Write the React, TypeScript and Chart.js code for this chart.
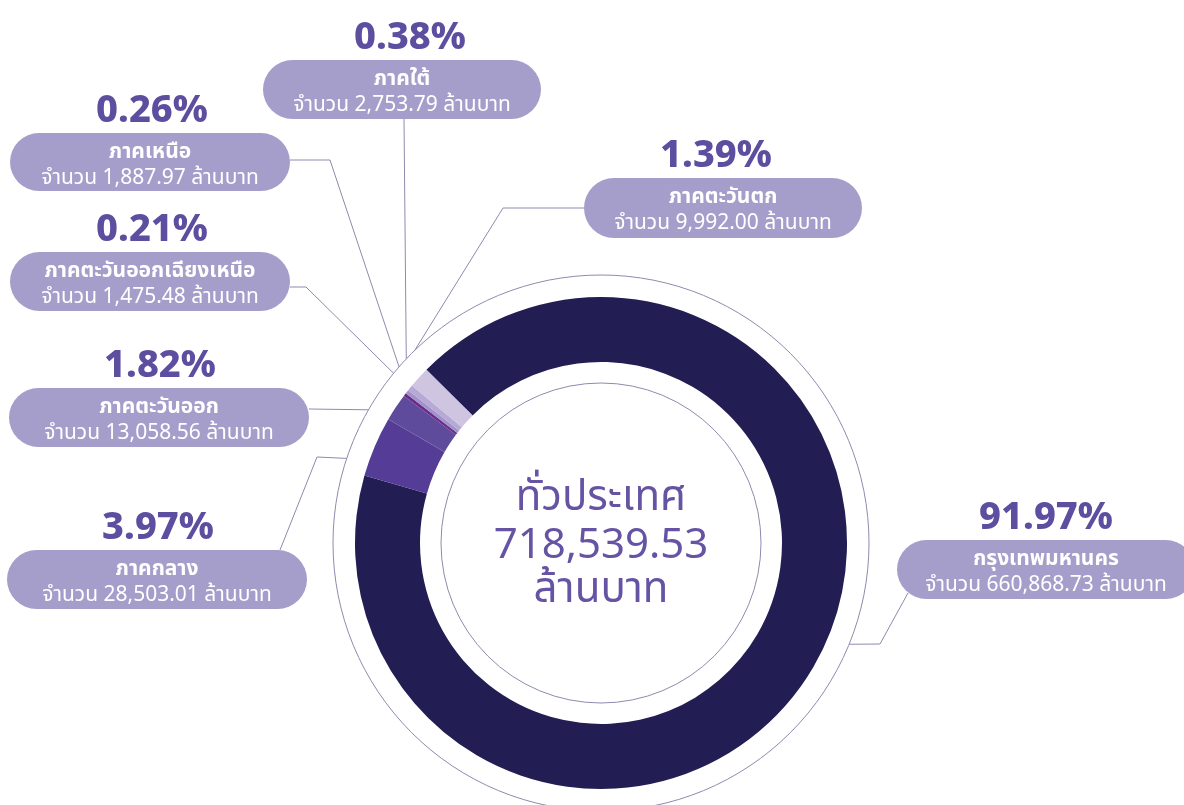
import React, { useEffect, useRef } from 'react';
import { Chart, registerables } from 'chart.js';

Chart.register(...registerables);

// ---- data ----
const regions = [
  'กรุงเทพมหานคร',
  'ภาคกลาง',
  'ภาคตะวันออก',
  'ภาคตะวันออกเฉียงเหนือ',
  'ภาคเหนือ',
  'ภาคใต้',
  'ภาคตะวันตก',
];
const amounts = [660868.73, 28503.01, 13058.56, 1475.48, 1887.97, 2753.79, 9992.0];
const amountLabels = ['660,868.73', '28,503.01', '13,058.56', '1,475.48', '1,887.97', '2,753.79', '9,992.00'];
const percentLabels = ['91.97%', '3.97%', '1.82%', '0.21%', '0.26%', '0.38%', '1.39%'];
const sliceColors = ['#221d52', '#553c96', '#5f4b9c', '#6a2d8c', '#a193c9', '#b6a9d6', '#d0c5e1'];
const centerTitle = 'ทั่วประเทศ';
const centerTotal = '718,539.53';
const unitLabel = 'ล้านบาท';
const amountPrefix = 'จำนวน';

// ---- layout (annotation boxes / connectors, not data) ----
type Box = { x: number; y: number; w: number; h: number; pdx: number; path: number[][]; endAngle: number };
const boxes: Box[] = [
  { x: 897, y: 540, w: 298, h: 59, pdx: 0, path: [[908, 593], [880, 644]], endAngle: 22.2 },
  { x: 7, y: 550, w: 300, h: 59, pdx: 1, path: [[280, 550], [317, 457]], endAngle: -161.6 },
  { x: 9, y: 388, w: 300, h: 59, pdx: 1, path: [[309, 409]], endAngle: -150.2 },
  { x: 10, y: 252, w: 280, h: 59, pdx: 2, path: [[290, 287], [306, 287]], endAngle: -140.7 },
  { x: 10, y: 133, w: 280, h: 58, pdx: 2, path: [[290, 160], [330, 160]], endAngle: -138.9 },
  { x: 263, y: 60, w: 278, h: 59, pdx: 8, path: [[404, 119]], endAngle: -136.6 },
  { x: 584, y: 178, w: 278, h: 60, pdx: -7, path: [[584, 208], [503, 208]], endAngle: -134.0 },
];

const FONT = '"Noto Sans", "Noto Sans Thai", sans-serif';
const GUIDE = '#8f89ad';

function roundRect(ctx: CanvasRenderingContext2D, x: number, y: number, w: number, h: number, r: number) {
  ctx.beginPath();
  ctx.moveTo(x + r, y);
  ctx.lineTo(x + w - r, y);
  ctx.arc(x + w - r, y + r, r, -Math.PI / 2, Math.PI / 2);
  ctx.lineTo(x + r, y + h);
  ctx.arc(x + r, y + r, r, Math.PI / 2, (3 * Math.PI) / 2);
  ctx.closePath();
}

const overlayPlugin = {
  id: 'overlay',
  beforeDatasetsDraw(chart: any) {
    const ctx: CanvasRenderingContext2D = chart.ctx;
    const arc = chart.getDatasetMeta(0).data[0];
    const cx = arc.x;
    const cy = arc.y;
    const outer = arc.outerRadius;
    const guideOuter = outer + 22;
    const guideInner = arc.innerRadius - 21;
    ctx.save();
    ctx.strokeStyle = GUIDE;
    ctx.lineWidth = 1;
    ctx.beginPath();
    ctx.arc(cx, cy, guideOuter, 0, Math.PI * 2);
    ctx.stroke();
    ctx.beginPath();
    ctx.arc(cx, cy, guideInner, 0, Math.PI * 2);
    ctx.stroke();

    // connectors
    boxes.forEach((b) => {
      const a = (b.endAngle * Math.PI) / 180;
      const ex = cx + guideOuter * Math.cos(a);
      const ey = cy + guideOuter * Math.sin(a);
      ctx.beginPath();
      b.path.forEach((p, i) => (i === 0 ? ctx.moveTo(p[0], p[1]) : ctx.lineTo(p[0], p[1])));
      ctx.lineTo(ex, ey);
      ctx.stroke();
    });
    ctx.restore();
  },
  afterDraw(chart: any) {
    const ctx: CanvasRenderingContext2D = chart.ctx;
    const arc = chart.getDatasetMeta(0).data[0];
    const cx = arc.x;
    const cy = arc.y;
    ctx.save();
    ctx.textAlign = 'center';
    ctx.textBaseline = 'alphabetic';

    boxes.forEach((b, i) => {
      ctx.fillStyle = '#a59eca';
      roundRect(ctx, b.x, b.y, b.w, b.h, b.h / 2);
      ctx.fill();
      const mx = b.x + b.w / 2;
      ctx.fillStyle = '#ffffff';
      ctx.font = `bold 21px ${FONT}`;
      ctx.fillText(regions[i], mx, b.y + 25);
      ctx.font = `21px ${FONT}`;
      ctx.fillText(`${amountPrefix} ${amountLabels[i]} ${unitLabel}`, mx, b.y + 51);
      ctx.fillStyle = '#5d4ea0';
      ctx.font = `800 38px ${FONT}`;
      ctx.fillText(percentLabels[i], mx + b.pdx, b.y - 11);
    });

    ctx.fillStyle = '#6653a4';
    ctx.font = `42px ${FONT}`;
    ctx.fillText(centerTitle, cx, cy - 33);
    ctx.fillText(centerTotal, cx, cy + 15);
    ctx.fillText(unitLabel, cx, cy + 59);
    ctx.restore();
  },
};

export default function App() {
  const ref = useRef<HTMLCanvasElement | null>(null);
  useEffect(() => {
    if (!ref.current) return;
    const chart = new Chart(ref.current, {
      type: 'doughnut',
      data: {
        labels: regions,
        datasets: [
          {
            data: amounts,
            backgroundColor: sliceColors,
            borderWidth: 0,
          },
        ],
      },
      options: {
        responsive: false,
        maintainAspectRatio: false,
        animation: false,
        rotation: -45.2,
        radius: 246,
        cutout: 181,
        layout: { padding: { left: 355, right: 337, top: 297, bottom: 16 } },
        plugins: {
          legend: { display: false },
          tooltip: { enabled: false },
        },
      } as any,
      plugins: [overlayPlugin],
    });
    return () => chart.destroy();
  }, []);
  return (
    <div style={{ position: 'absolute', left: 0, top: 0, width: 1184, height: 805, background: '#ffffff' }}>
      <canvas ref={ref} width={1184} height={805} style={{ display: 'block', width: 1184, height: 805 }} />
    </div>
  );
}
